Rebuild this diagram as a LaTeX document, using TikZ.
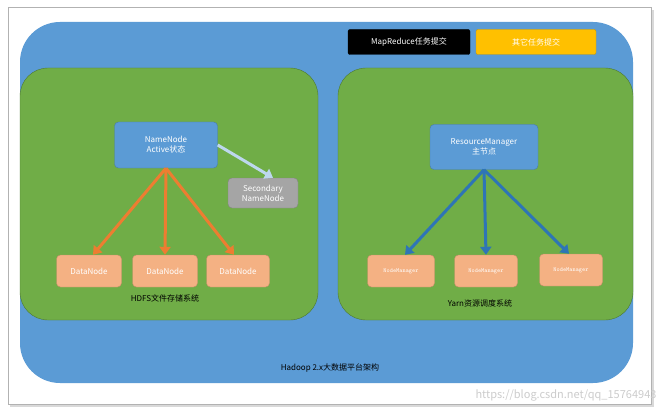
\documentclass[tikz,border=0pt]{standalone}
\usepackage{fontspec}
\setmainfont{Noto Sans CJK SC}
\usetikzlibrary{arrows.meta}
\definecolor{bgblue}{HTML}{5B9BD5}
\definecolor{grn}{HTML}{70AD47}
\definecolor{org}{HTML}{ED7D31}
\definecolor{peach}{HTML}{F4B183}
\definecolor{dblue}{HTML}{2E75B6}
\definecolor{lblue}{HTML}{BDD7EE}
\definecolor{gry}{HTML}{A5A5A5}
\definecolor{ylw}{HTML}{FFC000}
\tikzset{
  box/.style={draw=#1!80!black, fill=#1, rounded corners=4pt, inner sep=2pt, text=white, font=\fontsize{8}{10}\selectfont, align=center},
  area/.style={draw=grn!70!black, fill=grn, rounded corners=28pt},
  arr/.style={line width=3pt, -{Triangle[length=8pt,width=11pt]}}
}
\begin{document}
\begin{tikzpicture}[x=1pt,y=-1pt]
\useasboundingbox (0,0) rectangle (662,412);
\fill[white] (0,0) rectangle (662,412);
\draw[gray!60, line width=1pt] (8,8) rectangle (651,404);
\draw[gray!30, line width=1.5pt] (10,406) -- (653,406) -- (653,10);
\fill[bgblue, rounded corners=40pt] (20,22) rectangle (633,383);
\draw[area] (20,68) rectangle (318,320);
\draw[area] (338,68) rectangle (633,320);
\node[box=black, draw=black, minimum width=122pt, minimum height=25pt, rounded corners=2pt] (mr) at (409,42) {MapReduce任务提交};
\node[box=ylw, minimum width=120pt, minimum height=25pt, rounded corners=2pt] (ot) at (536,42) {其它任务提交};
\node[box=bgblue, minimum width=103pt, minimum height=46pt] (nn) at (166,145) {NameNode\\Active状态};
\node[box=gry, minimum width=70pt, minimum height=30pt] (sn) at (263,193) {Secondary\\NameNode};
\node[box=peach, minimum width=65pt, minimum height=32pt] (d1) at (89,271) {DataNode};
\node[box=peach, minimum width=65pt, minimum height=32pt] (d2) at (165,271) {DataNode};
\node[box=peach, minimum width=63pt, minimum height=32pt] (d3) at (238,271) {DataNode};
\node[box=bgblue, minimum width=108pt, minimum height=45pt] (rm) at (484,147) {ResourceManager\\主节点};
\node[box=peach, minimum width=67pt, minimum height=32pt, font=\ttfamily\fontsize{6}{7}\selectfont] (n1) at (401,271) {NodeManager};
\node[box=peach, minimum width=63pt, minimum height=32pt, font=\ttfamily\fontsize{6}{7}\selectfont] (n2) at (486,271) {NodeManager};
\node[box=peach, minimum width=63pt, minimum height=32pt, font=\ttfamily\fontsize{6}{7}\selectfont] (n3) at (571,270) {NodeManager};
\node[font=\fontsize{8}{10}\selectfont] (hl) at (165,298) {HDFS文件存储系统};
\node[font=\fontsize{8}{10}\selectfont] (yl) at (480,303) {Yarn资源调度系统};
\node[font=\fontsize{8}{10}\selectfont] (hd) at (330,368) {Hadoop 2.x大数据平台架构};
\node[font=\fontsize{11}{12}\selectfont, text=gray!40, anchor=east] (wm) at (660,395) {https://blog.csdn.net/qq\_15764943};
\draw[arr, lblue] (nn.east) -- ([xshift=10pt]sn.north);
\draw[arr, org] (nn.south) -- ([xshift=4pt]d1.north);
\draw[arr, org] (nn.south) -- (d2.north);
\draw[arr, org] (nn.south) -- ([xshift=-4pt]d3.north);
\draw[arr, dblue] (rm.south) -- ([xshift=4pt]n1.north);
\draw[arr, dblue] (rm.south) -- ([xshift=0pt]n2.north);
\draw[arr, dblue] (rm.south) -- ([xshift=-2pt]n3.north);
\end{tikzpicture}
\end{document}
